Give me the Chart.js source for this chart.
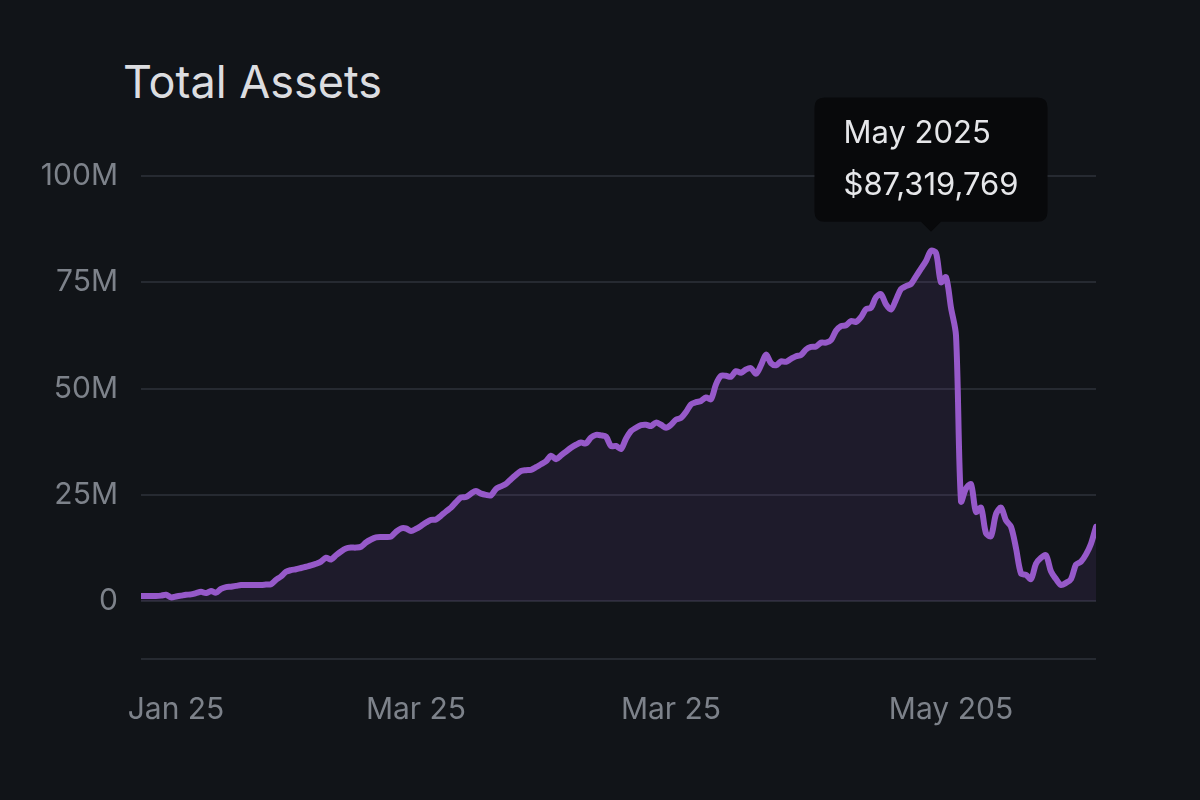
<!DOCTYPE html>
<html>
<head>
<meta charset="utf-8">
<title>Total Assets</title>
<script src="https://cdn.jsdelivr.net/npm/chart.js@4.4.1/dist/chart.umd.min.js"></script>
<style>
    html, body { margin: 0; padding: 0; background: #111418; }
    #wrap { position: relative; width: 1200px; height: 800px; }
    #title {
        position: absolute; left: 123px; top: 60px; margin: 0;
        font: 400 45px/44px Inter, "Noto Sans", sans-serif; color: #dcdde0;
    }
    canvas { position: absolute; left: 0; top: 0; }
</style>
</head>
<body>
<div id="wrap">
    <h1 id="title">Total Assets</h1>
    <canvas id="chart" width="1200" height="800"></canvas>
</div>
<script>
/* Data (values in millions) */
const assets = [
    1.2, 1.2, 1.2, 1.2, 1.3, 1.5, 0.9, 1.1, 1.3, 1.5,
    1.6, 1.9, 2.2, 1.9, 2.4, 2.0, 2.9, 3.3, 3.4, 3.6,
    3.8, 3.8, 3.8, 3.8, 3.8, 3.9, 4.0, 5.0, 5.8, 6.9,
    7.3, 7.5, 7.8, 8.1, 8.4, 8.8, 9.3, 10.2, 9.8, 10.8,
    11.7, 12.4, 12.6, 12.6, 12.8, 13.8, 14.5, 15.0, 15.1, 15.1,
    15.2, 16.3, 17.1, 17.1, 16.5, 17.0, 17.7, 18.5, 19.1, 19.2,
    20.1, 21.1, 22.0, 23.3, 24.4, 24.5, 25.3, 25.9, 25.3, 25.0,
    24.9, 26.4, 27.0, 27.6, 28.7, 29.7, 30.6, 30.8, 30.9, 31.5,
    32.2, 32.9, 34.2, 33.4, 34.3, 35.2, 36.1, 36.8, 37.3, 37.1,
    38.5, 39.1, 39.0, 38.7, 36.5, 36.5, 35.8, 38.2, 40.0, 40.8,
    41.4, 41.5, 41.2, 42.0, 41.5, 40.8, 41.5, 42.7, 43.1, 44.5,
    46.3, 46.8, 47.1, 47.9, 47.5, 51.0, 53.0, 53.0, 52.8, 54.1,
    53.7, 54.5, 54.8, 53.5, 55.5, 58.0, 56.0, 55.5, 56.4, 56.3,
    57.0, 57.6, 57.9, 59.2, 59.8, 59.9, 60.8, 60.8, 61.4, 63.6,
    64.7, 64.9, 65.9, 65.7, 66.8, 68.7, 69.0, 71.5, 72.2, 69.8,
    68.6, 70.9, 73.4, 74.1, 74.6, 76.4, 78.2, 80.0, 82.4, 81.9,
    75.0, 76.2, 69.0, 62.5, 23.5, 26.5, 27.5, 21.0, 22.0, 16.0,
    15.3, 20.5, 22.0, 19.0, 17.5, 12.5, 6.5, 6.2, 5.2, 8.8,
    10.2, 10.8, 7.0, 5.2, 3.8, 4.3, 5.2, 8.6, 9.3, 11.0,
    13.5, 17.5
];

const xTickLabels = ['Jan 25', 'Mar 25', 'Mar 25', 'May 205'];
const xTickAt = [7, 55, 106, 162];
const yTicks = [0, 25, 50, 75, 100];
const yMin = -13.6;
const yMax = 100;

const tooltipTitle = 'May 2025';
const tooltipValue = 87319769;

/* Chart */
const FONT = 'Inter, "Noto Sans", sans-serif';
const peakIndex = assets.indexOf(Math.max(...assets));

const ctx = document.getElementById('chart').getContext('2d');
const chart = new Chart(ctx, {
    type: 'line',
    data: {
        labels: assets.map((v, i) => i),
        datasets: [{
            data: assets,
            borderColor: '#9659c9',
            borderWidth: 6,
            backgroundColor: 'rgba(130, 80, 185, 0.12)',
            fill: 'origin',
            tension: 0.3,
            pointRadius: 0,
            pointHoverRadius: 0,
            borderJoinStyle: 'round',
            borderCapStyle: 'round'
        }]
    },
    options: {
        responsive: false,
        animation: false,
        events: [],
        layout: { padding: { top: 176, right: 104, bottom: 0, left: 0 } },
        plugins: {
            legend: { display: false },
            title: { display: false },
            tooltip: {
                enabled: true,
                backgroundColor: '#08090b',
                titleColor: '#e6e7ea',
                bodyColor: '#e6e7ea',
                titleFont: { family: FONT, size: 31, weight: 'normal' },
                bodyFont: { family: FONT, size: 31, weight: 'normal' },
                padding: { top: 18, bottom: 18, left: 29, right: 29 },
                titleMarginBottom: 14,
                cornerRadius: 10,
                caretSize: 10,
                caretPadding: 19,
                displayColors: false,
                xAlign: 'center',
                yAlign: 'bottom',
                callbacks: {
                    title: () => tooltipTitle,
                    label: () => '$' + tooltipValue.toLocaleString('en-US')
                }
            }
        },
        scales: {
            x: {
                type: 'linear',
                min: 0,
                max: assets.length - 1,
                grid: { display: false },
                border: { display: false },
                afterBuildTicks: (scale) => {
                    scale.ticks = xTickAt.map(v => ({ value: v }));
                },
                afterFit: (scale) => { scale.height = 141; },
                ticks: {
                    autoSkip: false,
                    maxRotation: 0,
                    padding: 25,
                    color: '#7d828a',
                    font: { family: FONT, size: 30 },
                    callback: (v) => xTickLabels[xTickAt.indexOf(v)] || ''
                }
            },
            y: {
                min: yMin,
                max: yMax,
                border: { display: false },
                grid: { color: '#262a31', lineWidth: 2, drawTicks: false },
                afterBuildTicks: (scale) => {
                    scale.ticks = [yMin].concat(yTicks).map(v => ({ value: v }));
                },
                afterFit: (scale) => { scale.width = 141; },
                ticks: {
                    padding: 23,
                    color: '#7d828a',
                    font: { family: FONT, size: 30 },
                    callback: (v) => v < 0 ? '' : (v === 0 ? '0' : v + 'M')
                }
            }
        }
    }
});

chart.tooltip.setActiveElements([{ datasetIndex: 0, index: peakIndex }], { x: 0, y: 0 });
chart.update('none');
</script>
</body>
</html>
